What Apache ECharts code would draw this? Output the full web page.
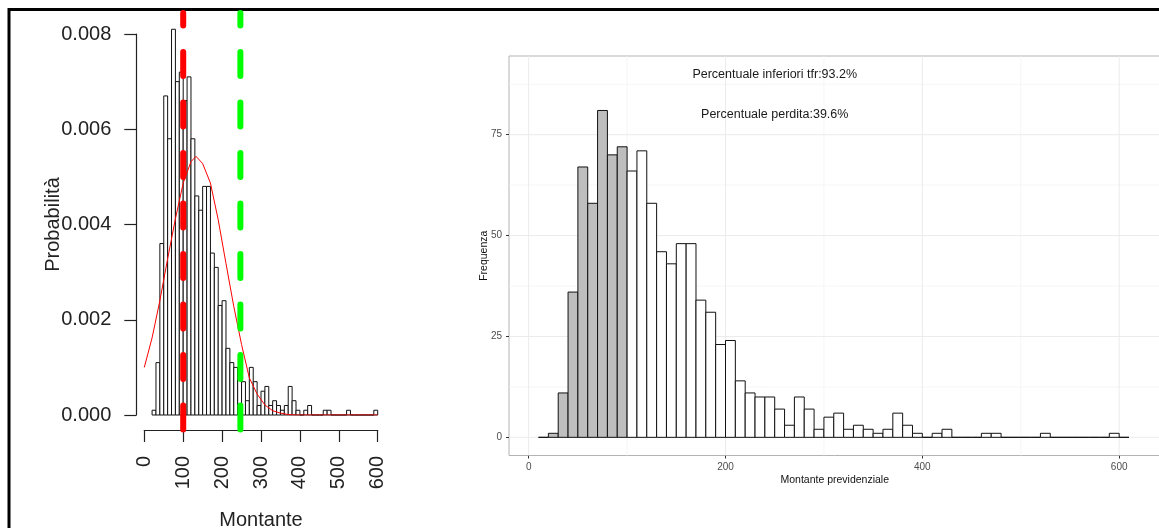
<!DOCTYPE html>
<html>
<head>
<meta charset="utf-8">
<script src="https://cdn.jsdelivr.net/npm/echarts@6/dist/echarts.min.js"></script>
<style>
  html, body { margin: 0; padding: 0; background: #ffffff; }
  #chart { width: 1159px; height: 528px; }
</style>
</head>
<body>
<div id="chart"></div>
<script>
// Simulated pension amounts: histogram bins of width 10 (lower edges) and their counts
const binWidth = 10;
const binLower = [
  10, 20, 30, 40, 50, 60, 70, 80, 90, 100,
  110, 120, 130, 140, 150, 160, 170, 180, 190, 200,
  210, 220, 230, 240, 250, 260, 270, 280, 290, 300,
  310, 320, 330, 340, 350, 360, 370, 380, 390, 400,
  410, 420, 430, 440, 450, 460, 470, 480, 490, 500,
  510, 520, 530, 540, 550, 560, 570, 580, 590, 600
];
const binCounts = [
  0, 1, 11, 36, 67, 58, 81, 70, 72, 66,
  71, 58, 46, 43, 48, 48, 34, 31, 23, 24,
  14, 11, 10, 10, 7, 3, 10, 7, 2, 5,
  6, 2, 3, 2, 1, 2, 6, 3, 1, 0,
  1, 2, 0, 0, 0, 1, 1, 0, 0, 0,
  0, 1, 0, 0, 0, 0, 0, 0, 1, 0
];
// Break range used by the density histogram on the left
const densBreakMin = 20;
const densBreakMax = 600;

// Thresholds: loss (below 100) and TFR (about 247)
const lossThreshold = 100;
const tfrThreshold = 247;

// Fitted density curve (Montante vs density)
const curveX = [0, 20, 40, 60, 80, 100, 120, 133, 150, 170, 190, 210, 230, 250, 270, 290, 310, 330, 350, 370, 390, 420, 600];
const curveY = [0.00100, 0.00162, 0.00240, 0.00328, 0.00412, 0.00487, 0.00532, 0.00543, 0.00528, 0.00487, 0.00410, 0.00318, 0.00228, 0.00148, 0.00078, 0.00044, 0.00021, 0.00009, 0.00004, 0.00001, 0, 0, 0];

// Axis ticks
const densYTicks = [0, 0.002, 0.004, 0.006, 0.008];
const freqYTicks = [0, 25, 50, 75];
const freqYMinor = [12.5, 37.5, 62.5, 87.5];
const freqXTicks = [0, 200, 400, 600];
const freqXMinor = [100, 300, 500];

// Text annotations on the frequency panel
const annotX = [250, 250];
const annotY = [90, 80];
const annotText = ['Percentuale inferiori tfr:93.2%', 'Percentuale perdita:39.6%'];

const FONT = '"Liberation Sans", Arial, Helvetica, sans-serif';
const total = binCounts.reduce((a, b) => a + b, 0);

const freqBins = binLower.map((lo, i) => [lo, lo + binWidth, binCounts[i]]);
const densBins = binLower
  .map((lo, i) => [lo, lo + binWidth, binCounts[i] / (total * binWidth)])
  .filter(b => b[0] >= densBreakMin && b[1] <= densBreakMax);

const gridLines = []
  .concat(freqYMinor.map(v => [v, 0, 0]))
  .concat(freqXMinor.map(v => [v, 1, 0]))
  .concat(freqYTicks.map(v => [v, 0, 1]))
  .concat(freqXTicks.map(v => [v, 1, 1]));

function rectItem(fillFor) {
  return function (params, api) {
    const lo = api.value(0), hi = api.value(1), h = api.value(2);
    const p0 = api.coord([lo, h]);
    const p1 = api.coord([hi, 0]);
    return {
      type: 'rect',
      shape: { x: p0[0], y: p0[1], width: p1[0] - p0[0], height: p1[1] - p0[1] },
      style: { fill: fillFor(hi), stroke: '#111111', lineWidth: 1 }
    };
  };
}

const dashStyle = (color) => ({
  color: color, width: 6, type: [24, 26.5], dashOffset: 11.5, cap: 'round'
});

const chart = echarts.init(document.getElementById('chart'), null, { renderer: 'canvas' });

chart.setOption({
  animation: false,
  backgroundColor: '#ffffff',
  textStyle: { fontFamily: FONT },
  graphic: [
    { type: 'line', shape: { x1: 8, y1: 9.5, x2: 1159, y2: 9.5 }, style: { stroke: '#000', lineWidth: 3 }, silent: true },
    { type: 'line', shape: { x1: 9, y1: 8, x2: 9, y2: 528 }, style: { stroke: '#000', lineWidth: 3 }, silent: true }
  ],
  grid: [
    { left: 144.3, right: 781.3, top: 34, bottom: 113, outerBoundsMode: 'none', containLabel: false },
    { left: 144.3, right: 781.3, top: 13, bottom: 98, outerBoundsMode: 'none', containLabel: false },
    { left: 509, right: -1.5, top: 56, bottom: 72.5, outerBoundsMode: 'none', containLabel: false,
      show: true, borderColor: '#b3b3b3', borderWidth: 1, backgroundColor: 'transparent' }
  ],
  xAxis: [
    {
      gridIndex: 0, type: 'value', min: 0, max: 600, interval: 100, offset: 15,
      axisLine: { show: true, onZero: false, lineStyle: { color: '#222', width: 1.2 } },
      axisTick: { show: true, length: 12, lineStyle: { color: '#222', width: 1.2 } },
      axisLabel: { rotate: 90, margin: 26, fontSize: 20, color: '#222', fontFamily: FONT, showMinLabel: true, showMaxLabel: true },
      splitLine: { show: false },
      name: 'Montante', nameLocation: 'middle', nameGap: 80, nameMoveOverlap: false,
      nameTextStyle: { fontSize: 20, color: '#222', fontFamily: FONT }
    },
    { gridIndex: 1, type: 'value', min: 0, max: 600, show: false },
    {
      gridIndex: 2, type: 'value', min: -20, max: 642,
      axisLine: { show: false, onZero: false },
      axisTick: { show: true, customValues: freqXTicks, length: 3, lineStyle: { color: '#333', width: 1 } },
      axisLabel: { customValues: freqXTicks, fontSize: 10, color: '#4d4d4d', margin: 7, fontFamily: FONT },
      splitLine: { show: false },
      name: 'Montante previdenziale', nameLocation: 'middle', nameGap: 19, nameMoveOverlap: false,
      nameTextStyle: { fontSize: 10.5, color: '#111', fontFamily: FONT }
    }
  ],
  yAxis: [
    {
      gridIndex: 0, type: 'value', min: 0, max: 0.008, interval: 0.002, offset: 8,
      axisLine: { show: true, onZero: false, lineStyle: { color: '#222', width: 1.2 } },
      axisTick: { show: true, length: 12, lineStyle: { color: '#222', width: 1.2 } },
      axisLabel: { margin: 25, fontSize: 20, color: '#222', fontFamily: FONT, padding: [6, 0, 0, 0], formatter: v => v.toFixed(3) },
      splitLine: { show: false },
      name: 'Probabilità', nameLocation: 'middle', nameGap: 73, nameMoveOverlap: false,
      nameTextStyle: { fontSize: 20, color: '#222', fontFamily: FONT }
    },
    { gridIndex: 1, type: 'value', min: 0, max: 1, show: false },
    {
      gridIndex: 2, type: 'value', min: -4.5, max: 94.5,
      axisLine: { show: false, onZero: false },
      axisTick: { show: true, customValues: freqYTicks, length: 3, lineStyle: { color: '#333', width: 1 } },
      axisLabel: { customValues: freqYTicks, fontSize: 10, color: '#4d4d4d', margin: 7, fontFamily: FONT },
      splitLine: { show: false },
      name: 'Frequenza', nameLocation: 'middle', nameGap: 19, nameMoveOverlap: false,
      nameTextStyle: { fontSize: 10.5, color: '#111', fontFamily: FONT }
    }
  ],
  series: [
    // Density histogram (left)
    {
      type: 'custom', xAxisIndex: 0, yAxisIndex: 0, z: 2, silent: true,
      encode: { x: [0, 1], y: 2 },
      data: densBins,
      renderItem: rectItem(() => '#ffffff')
    },
    // Fitted density curve
    {
      type: 'line', xAxisIndex: 0, yAxisIndex: 0, z: 3, silent: true,
      showSymbol: false, symbol: 'none',
      data: curveX.map((x, i) => [x, curveY[i]]),
      lineStyle: { color: '#ff0000', width: 1 }
    },
    // Threshold lines
    {
      type: 'line', xAxisIndex: 1, yAxisIndex: 1, z: 4, silent: true,
      symbol: 'none', data: [[lossThreshold, 1], [lossThreshold, 0]],
      lineStyle: dashStyle('#ff0000')
    },
    {
      type: 'line', xAxisIndex: 1, yAxisIndex: 1, z: 4, silent: true,
      symbol: 'none', data: [[tfrThreshold, 1], [tfrThreshold, 0]],
      lineStyle: dashStyle('#00ff00')
    },
    // Panel grid lines (right)
    {
      type: 'custom', xAxisIndex: 2, yAxisIndex: 2, z: 1, silent: true,
      encode: { x: -1, y: -1 },
      data: gridLines,
      renderItem: function (params, api) {
        const cs = params.coordSys;
        const v = api.value(0), isX = api.value(1), major = api.value(2);
        const style = { stroke: major ? '#ebebeb' : '#f4f4f4', lineWidth: major ? 1 : 0.8 };
        if (isX) {
          const px = api.coord([v, 0])[0];
          return { type: 'line', shape: { x1: px, y1: cs.y, x2: px, y2: cs.y + cs.height }, style };
        }
        const py = api.coord([0, v])[1];
        return { type: 'line', shape: { x1: cs.x, y1: py, x2: cs.x + cs.width, y2: py }, style };
      }
    },
    // Frequency histogram (right)
    {
      type: 'custom', xAxisIndex: 2, yAxisIndex: 2, z: 2, silent: true,
      encode: { x: [0, 1], y: 2 },
      data: freqBins,
      renderItem: rectItem(hi => (hi <= lossThreshold ? '#bebebe' : '#ffffff'))
    },
    // Annotations
    {
      type: 'custom', xAxisIndex: 2, yAxisIndex: 2, z: 5, silent: true,
      encode: { x: 0, y: 1 },
      data: annotX.map((x, i) => [x, annotY[i]]),
      renderItem: function (params, api) {
        const p = api.coord([api.value(0), api.value(1)]);
        return {
          type: 'text', x: p[0], y: p[1],
          style: {
            text: annotText[params.dataIndex], fill: '#1a1a1a', fontSize: 12.5,
            fontFamily: FONT, align: 'center', verticalAlign: 'middle'
          }
        };
      }
    }
  ]
});
</script>
</body>
</html>
